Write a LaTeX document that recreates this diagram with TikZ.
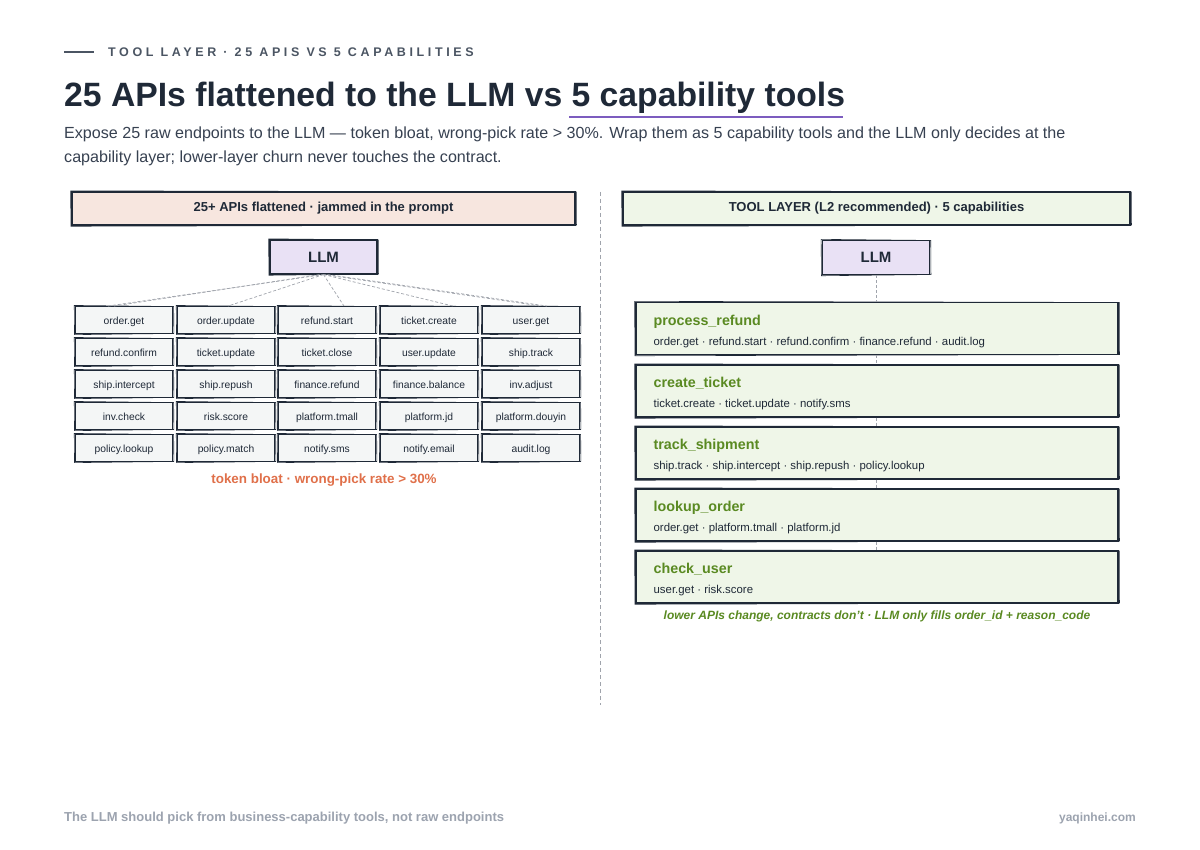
\documentclass[tikz,border=0pt]{standalone}
\usepackage{fontspec}
\setmainfont{Liberation Sans}
\definecolor{ink}{HTML}{1F2937}
\definecolor{slate}{HTML}{4B5563}
\definecolor{subt}{HTML}{374151}
\definecolor{peach}{HTML}{F7E6DF}
\definecolor{lav}{HTML}{E9E1F5}
\definecolor{cellbg}{HTML}{F4F6F6}
\definecolor{greenbg}{HTML}{EFF6E8}
\definecolor{greentxt}{HTML}{5A8A22}
\definecolor{orangetxt}{HTML}{E0704A}
\definecolor{purp}{HTML}{7C5CBF}
\definecolor{grayline}{HTML}{A0A4AC}
\definecolor{foot}{HTML}{9CA3AF}
\newcommand\roughbox[1]{\draw[ink,line width=0.6pt] ([shift={(-0.8pt,0.6pt)}]#1.north west) -- ([shift={(0.7pt,-0.5pt)}]#1.north east) -- ([shift={(0.9pt,0.5pt)}]#1.south east) -- ([shift={(-0.5pt,-0.7pt)}]#1.south west) -- cycle;}
\begin{document}
\begin{tikzpicture}[x=1pt,y=-1pt,
  box/.style={draw=ink, line width=1.1pt, inner sep=0pt},
  hdr/.style={box, minimum height=33pt, font=\fontsize{13}{15}\selectfont\bfseries, text=ink},
  llmbox/.style={box, fill=lav, minimum width=107pt, minimum height=34pt, font=\fontsize{15}{18}\selectfont\bfseries, text=ink},
  cell/.style={box, line width=0.9pt, fill=cellbg, minimum width=97pt, minimum height=27pt, text height=10pt, text depth=1.5pt, font=\fontsize{10.3}{12}\selectfont, text=ink},
  capbox/.style={box, fill=greenbg, minimum width=482pt, minimum height=52pt},
  captitle/.style={anchor=west, inner sep=0pt, font=\fontsize{14.3}{16}\selectfont\bfseries, text=greentxt},
  capsub/.style={anchor=west, inner sep=0pt, font=\fontsize{11.4}{13}\selectfont, text=ink},
  fan/.style={draw=grayline, line width=0.7pt, dash pattern=on 3pt off 2pt},
  link/.style={draw=grayline, line width=0.8pt, dash pattern=on 3pt off 2pt}
]
\useasboundingbox[fill=white] (0,0) rectangle (1200,850);

% header
\draw[slate, line width=1.4pt] (64,52) -- (94,52);
\node[anchor=west, inner sep=0pt, text=slate, font=\fontsize{12.5}{14}\selectfont\bfseries\addfontfeature{LetterSpace=29}] (kicker) at (108,52) {TOOL LAYER · 25 APIS VS 5 CAPABILITIES};
\node[anchor=base west, inner sep=0pt, text=ink, font=\fontsize{33.7}{40}\selectfont\bfseries] (title) at (64,107) {25 APIs flattened to the LLM vs 5 capability tools};
\draw[purp, line width=1.6pt] (569,117) -- (843,117);
\node[anchor=base west, inner sep=0pt, text=subt, font=\fontsize{16.1}{18}\selectfont] (sub1) at (64,139) {Expose 25 raw endpoints to the LLM — token bloat, wrong-pick rate > 30\%. Wrap them as 5 capability tools and the LLM only decides at the};
\node[anchor=base west, inner sep=0pt, text=subt, font=\fontsize{16.1}{18}\selectfont] (sub2) at (64,163) {capability layer; lower-layer churn never touches the contract.};

% divider
\coordinate (d1) at (600,192);
\coordinate (d2) at (600,705);
\draw[grayline, line width=1pt, dash pattern=on 4pt off 3pt] (d1) -- (d2);

% left panel
\node[hdr, fill=peach, minimum width=503pt] (lh) at (323.5,208.5) {25+ APIs flattened · jammed in the prompt};
\roughbox{lh}
\node[llmbox] (llmL) at (323.5,257) {LLM};
\roughbox{llmL}

\foreach \y [count=\ri] in {320,352,384,416,448}{
  \foreach \x [count=\ci] in {124,226,327,429,531}{
    \coordinate (p\ri\ci) at (\x,\y);
  }
}
\foreach \lab [count=\i] in {order.get,order.update,refund.start,ticket.create,user.get}{\node[cell] (c1\i) at (p1\i) {\lab}; \roughbox{c1\i}}
\foreach \lab [count=\i] in {refund.confirm,ticket.update,ticket.close,user.update,ship.track}{\node[cell] (c2\i) at (p2\i) {\lab}; \roughbox{c2\i}}
\foreach \lab [count=\i] in {ship.intercept,ship.repush,finance.refund,finance.balance,inv.adjust}{\node[cell] (c3\i) at (p3\i) {\lab}; \roughbox{c3\i}}
\foreach \lab [count=\i] in {inv.check,risk.score,platform.tmall,platform.jd,platform.douyin}{\node[cell] (c4\i) at (p4\i) {\lab}; \roughbox{c4\i}}
\foreach \lab [count=\i] in {policy.lookup,policy.match,notify.sms,notify.email,audit.log}{\node[cell] (c5\i) at (p5\i) {\lab}; \roughbox{c5\i}}

\draw[fan] (llmL.south) -- ([xshift=-16pt]c11.north);
\draw[fan] (llmL.south) -- ([xshift=2pt]c12.north);
\draw[fan] (llmL.south) -- ([xshift=17pt]c13.north);
\draw[fan] (llmL.south) -- ([xshift=24pt]c14.north);
\draw[fan] (llmL.south) -- ([xshift=10pt]c15.north);
\draw[fan] ([xshift=-4pt]llmL.south) -- ([xshift=-10pt]c11.north);
\draw[fan] ([xshift=4pt]llmL.south) -- ([xshift=16pt]c15.north);

\node[text=orangetxt, font=\fontsize{13.4}{15}\selectfont\bfseries, inner sep=0pt] (warn) at (324,480) {token bloat · wrong-pick rate > 30\%};

% right panel
\node[hdr, fill=greenbg, minimum width=507pt] (rh) at (876.5,208.5) {TOOL LAYER (L2 recommended) · 5 capabilities};
\roughbox{rh}
\node[llmbox] (llmR) at (876,257.5) {LLM};
\roughbox{llmR}

\node[capbox] (k1) at (877,328.5) {};
\node[capbox] (k2) at (877,391) {};
\node[capbox] (k3) at (877,453) {};
\node[capbox] (k4) at (877,515) {};
\node[capbox] (k5) at (877,577) {};
\foreach \k in {k1,k2,k3,k4,k5}{\roughbox{\k}}

\draw[link] (llmR.south) -- (k1.north -| llmR.south);
\draw[link] (k1.south -| llmR.south) -- (k2.north -| llmR.south);
\draw[link] (k2.south -| llmR.south) -- (k3.north -| llmR.south);
\draw[link] (k3.south -| llmR.south) -- (k4.north -| llmR.south);
\draw[link] (k4.south -| llmR.south) -- (k5.north -| llmR.south);

\node[captitle] (t1) at ([xshift=18pt,yshift=6.5pt]k1.west) {process\_refund};
\node[capsub] (s1) at ([xshift=18pt,yshift=-14.5pt]k1.west) {order.get · refund.start · refund.confirm · finance.refund · audit.log};
\node[captitle] (t2) at ([xshift=18pt,yshift=7.5pt]k2.west) {create\_ticket};
\node[capsub] (s2) at ([xshift=18pt,yshift=-14pt]k2.west) {ticket.create · ticket.update · notify.sms};
\node[captitle] (t3) at ([xshift=18pt,yshift=7.5pt]k3.west) {track\_shipment};
\node[capsub] (s3) at ([xshift=18pt,yshift=-14pt]k3.west) {ship.track · ship.intercept · ship.repush · policy.lookup};
\node[captitle] (t4) at ([xshift=18pt,yshift=7.5pt]k4.west) {lookup\_order};
\node[capsub] (s4) at ([xshift=18pt,yshift=-14pt]k4.west) {order.get · platform.tmall · platform.jd};
\node[captitle] (t5) at ([xshift=18pt,yshift=7.5pt]k5.west) {check\_user};
\node[capsub] (s5) at ([xshift=18pt,yshift=-14pt]k5.west) {user.get · risk.score};

\node[text=greentxt, font=\fontsize{12}{14}\selectfont\bfseries\itshape, inner sep=0pt] (note) at (877,616) {lower APIs change, contracts don't · LLM only fills order\_id + reason\_code};

% footer
\node[anchor=west, inner sep=0pt, text=foot, font=\fontsize{13}{15}\selectfont\bfseries] (fl) at (64,818) {The LLM should pick from business-capability tools, not raw endpoints};
\node[anchor=east, inner sep=0pt, text=foot, font=\fontsize{12}{14}\selectfont\bfseries] (fr) at (1136,818) {yaqinhei.com};
\end{tikzpicture}
\end{document}
